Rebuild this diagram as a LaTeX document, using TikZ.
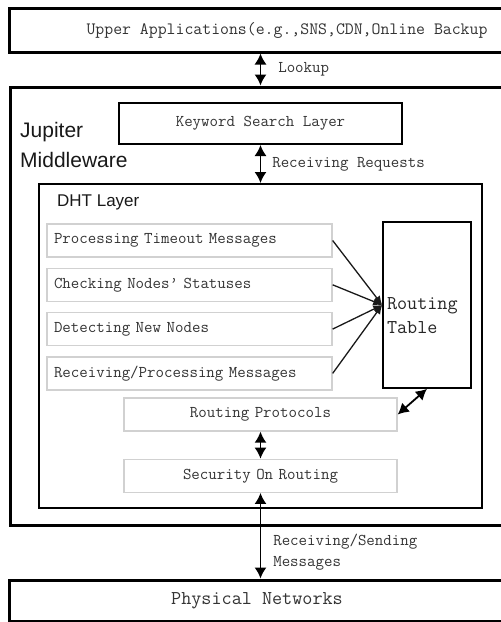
\documentclass[tikz,border=0pt]{standalone}
\usepackage{fontspec}
\setmainfont{Liberation Sans}
\setsansfont{Liberation Sans}
\usepackage{tikz}
\usetikzlibrary{arrows.meta, positioning}
\usepackage{xcolor}

\begin{document}
\begin{tikzpicture}[
  x=1pt, y=-1pt,
  node distance=10pt,
  >={Latex[length=11pt, width=12pt]},
  outer/.style={draw=black, line width=3pt, inner sep=0pt, text=black!80, font=\ttfamily\fontsize{17.3}{20}\selectfont},
  layer/.style={draw=black, line width=2pt, inner sep=0pt},
  proc/.style={draw=black!18, line width=1.3pt, minimum height=33pt, text width=271pt, inner xsep=7pt, inner ysep=0pt, align=left, text=black!80, font=\ttfamily\fontsize{16.45}{19}\selectfont},
  cproc/.style={proc, text width=259pt, align=center},
  title/.style={inner sep=0pt, align=left, text=black!90, font=\sffamily},
  lbl/.style={inner sep=0pt, align=left, text=black!80, font=\ttfamily\fontsize{16.45}{21}\selectfont},
  link/.style={<->, line width=1.6pt, draw=black},
  fan/.style={->, line width=1.3pt, draw=black!90, >={Latex[length=9pt, width=8pt]}}
]
  \useasboundingbox (0,0) rectangle (501,622);
  \clip (0,0) rectangle (501,622);

  % couches externes ================================
  \node[outer, minimum width=556pt, minimum height=44pt] (apps) at (287,30) {Upper Applications(e.g.,SNS,CDN,Online Backup};
  \node[outer, minimum width=510pt, minimum height=438pt] (mw) at (265,306) {};
  \node[outer, minimum width=496pt, minimum height=41pt, font=\ttfamily\fontsize{19.6}{22}\selectfont] (phy) at (257,600.5) {Physical Networks};

  % Jupiter Middleware
  \node[title, anchor=north west, font=\sffamily\fontsize{21}{30}\selectfont] (mwname) at (20,122) {Jupiter\\Middleware};
  \node[layer, minimum width=283pt, minimum height=41pt, text=black!80, font=\ttfamily\fontsize{16.45}{19}\selectfont] (kw) at (260.5,123.5) {Keyword Search Layer};

  % DHT Layer
  \node[layer, minimum width=443pt, minimum height=324pt] (dht) at (260.5,346) {};
  \node[title, anchor=north west, font=\sffamily\fontsize{17}{20}\selectfont] (dhtname) at (57,195) {DHT Layer};

  % traitements
  \node[proc] (p1) at (189.5,240.5) {Processing Timeout Messages};
  \node[proc, below=of p1] (p2) {Checking Nodes’ Statuses};
  \node[proc, below=of p2] (p3) {Detecting New Nodes};
  \node[proc, below=of p3] (p4) {Receiving/Processing Messages};

  \node[layer, line width=1.6pt, minimum width=88pt, minimum height=166pt, text width=80pt, inner xsep=4pt, align=left, text=black!85, font=\ttfamily\fontsize{19.6}{24}\selectfont] (rt) at (427,305) {\rule{0pt}{34pt}Routing\\Table};

  \node[cproc] (rp) at (260.5,414.5) {Routing Protocols};
  \node[cproc, below=27pt of rp] (sec) {Security On Routing};

  % fleches verticales
  \draw[link] (kw.north |- apps.south) -- (kw.north |- mw.north)
    node[lbl, midway, right=17pt] (lookup) {Lookup};
  \draw[link] (kw.south) -- (kw.south |- dht.north)
    node[lbl, midway, right=11pt] (req) {Receiving Requests};
  \draw[link] (rp.south) -- (sec.north);
  \draw[link] (sec.south) -- (sec.south |- phy.north)
    node[lbl, midway, right=12pt, yshift=-16pt] (send) {Receiving/Sending\\Messages};

  % vers la table de routage
  \foreach \p in {p1, p2, p3, p4}
    \draw[fan] (\p.east) -- (rt.west);
  \draw[link, line width=1.8pt] (rp.east) -- (rt.south);

\end{tikzpicture}
\end{document}
